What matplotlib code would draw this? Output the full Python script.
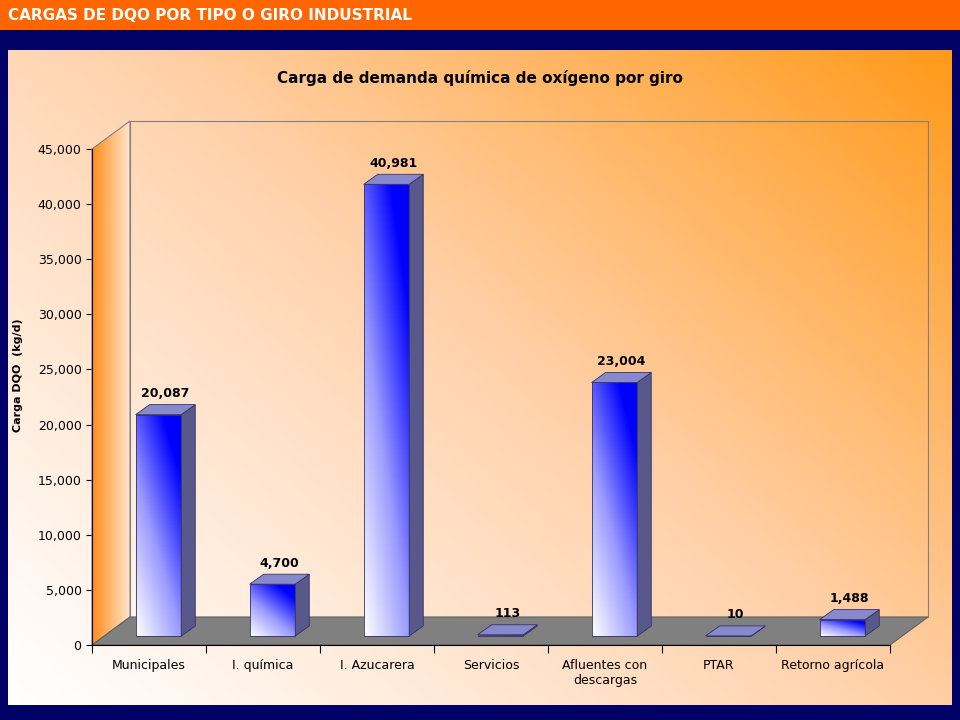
import numpy as np
import matplotlib.pyplot as plt
from matplotlib.patches import Polygon, Rectangle
from matplotlib.colors import LinearSegmentedColormap

categories = ["Municipales", "I. química", "I. Azucarera", "Servicios",
              "Afluentes con\ndescargas", "PTAR", "Retorno agrícola"]
values = [20087, 4700, 40981, 113, 23004, 10, 1488]
yticks = list(range(0, 45001, 5000))

W, H = 960, 720
fig = plt.figure(figsize=(W / 100, H / 100), dpi=100)
fig.patch.set_facecolor("#000066")

# header bar
hdr = fig.add_axes([0, 1 - 30 / H, 1, 30 / H])
hdr.set_axis_off()
hdr.add_patch(Rectangle((0, 0), 1, 1, color="#ff6600", transform=hdr.transAxes))
hdr.text(0.008, 0.5, "CARGAS DE DQO POR TIPO O GIRO INDUSTRIAL", color="white",
         fontsize=11, fontweight="bold", va="center", transform=hdr.transAxes)

# gradient panel
bg = fig.add_axes([8 / W, 15 / H, 944 / W, 655 / H])
bg.set_axis_off()
xx, yy = np.meshgrid(np.linspace(0, 1, 300), np.linspace(0, 1, 200))
t = np.clip(0.55 * xx + 0.45 * yy, 0, 1) ** 1.1
bgmap = LinearSegmentedColormap.from_list("bg", ["#ffffff", "#ffd0a8", "#ff9a1a"])
bg.imshow(t, cmap=bgmap, origin="lower", extent=[0, 1, 0, 1], aspect="auto")
bg.set_xlim(0, 1); bg.set_ylim(0, 1)

# main axes = front plane
x0, x1, yb, yt = 92, 890, 645, 149
ax = fig.add_axes([x0 / W, (H - yb) / H, (x1 - x0) / W, (yb - yt) / H])
ax.patch.set_alpha(0)
n = len(categories)
ax.set_xlim(-0.5, n - 0.5)
ax.set_ylim(0, 45000)
pxx = n / (x1 - x0)
pxy = 45000 / (yb - yt)
DX, DY = 38 * pxx, 28 * pxy

# left wall
lw = np.linspace(0, 1, 50).reshape(1, -1)
wallmap = LinearSegmentedColormap.from_list("w", ["#ff8c1a", "#ffe6cc"])
wall = Polygon([(-0.5, 0), (-0.5 + DX, DY), (-0.5 + DX, 45000 + DY), (-0.5, 45000)],
               closed=True, fc="none", ec="#808080", lw=0.8, clip_on=False, zorder=2)
ax.add_patch(wall)
im = ax.imshow(lw, cmap=wallmap, extent=[-0.5, -0.5 + DX, 0, 45000 + DY],
               aspect="auto", zorder=1)
im.set_clip_box(fig.bbox)
im.set_clip_path(wall)
# back wall outline
ax.add_patch(Polygon([(-0.5 + DX, DY), (n - 0.5 + DX, DY), (n - 0.5 + DX, 45000 + DY),
                      (-0.5 + DX, 45000 + DY)], closed=True, fc="none", ec="#808080",
                     lw=0.8, clip_on=False, zorder=1))
# floor
ax.add_patch(Polygon([(-0.5, 0), (n - 0.5, 0), (n - 0.5 + DX, DY), (-0.5 + DX, DY)],
                     closed=True, fc="#808080", ec="#606060", lw=0.8, clip_on=False, zorder=2))

# bars
bw = 0.4
bdx, bdy = 14 * pxx, 10 * pxy
ox, oy = 0.083, 9 * pxy
grad = np.linspace(0, 1, 60)
gx, gy = np.meshgrid(grad, grad)
barmap = LinearSegmentedColormap.from_list("b", ["#ffffff", "#9999ff", "#0000ff"])
for i, v in enumerate(values):
    l = i - bw / 2 + ox
    r = l + bw
    b = oy
    tp = oy + v
    front = Rectangle((l, b), bw, v, fc="none", ec="#333366", lw=0.6, zorder=5, clip_on=False)
    ax.add_patch(front)
    g = ax.imshow(np.clip(0.5 * gx + 0.7 * gy, 0, 1), cmap=barmap, origin="lower",
                  extent=[l, r, b, max(tp, b + 1)], aspect="auto", zorder=4)
    g.set_clip_path(front)
    ax.add_patch(Polygon([(r, b), (r + bdx, b + bdy), (r + bdx, tp + bdy), (r, tp)],
                         closed=True, fc="#58588a", ec="#333366", lw=0.6, zorder=5, clip_on=False))
    ax.add_patch(Polygon([(l, tp), (r, tp), (r + bdx, tp + bdy), (l + bdx, tp + bdy)],
                         closed=True, fc="#8888cc", ec="#333366", lw=0.6, zorder=5, clip_on=False))
    ax.text(i + ox + bdx / 2, tp + bdy + 400, f"{v:,}", ha="center", va="bottom",
            fontsize=9, fontweight="bold", zorder=6)

ax.set_yticks(yticks)
ax.set_yticklabels([f"{v:,}" for v in yticks], fontsize=9)
ax.set_xticks(np.arange(-0.5, n, 1))
ax.set_xticklabels([])
ax.tick_params(axis="x", length=6, direction="out")
ax.tick_params(axis="y", length=4, direction="out")
for i, c in enumerate(categories):
    ax.text(i, -1300, c, ha="center", va="top", fontsize=9)
for s in ["top", "right"]:
    ax.spines[s].set_visible(False)
ax.spines["left"].set_zorder(3)
ax.spines["bottom"].set_zorder(3)

fig.text(480 / W, 1 - 78 / H, "Carga de demanda química de oxígeno por giro",
         ha="center", va="center", fontsize=11, fontweight="bold")
fig.text(18 / W, 1 - 375 / H, "Carga DQO  (kg/d)", rotation=90, ha="center",
         va="center", fontsize=8, fontweight="bold")

fig.savefig("out.png", dpi=100, facecolor=fig.get_facecolor())
